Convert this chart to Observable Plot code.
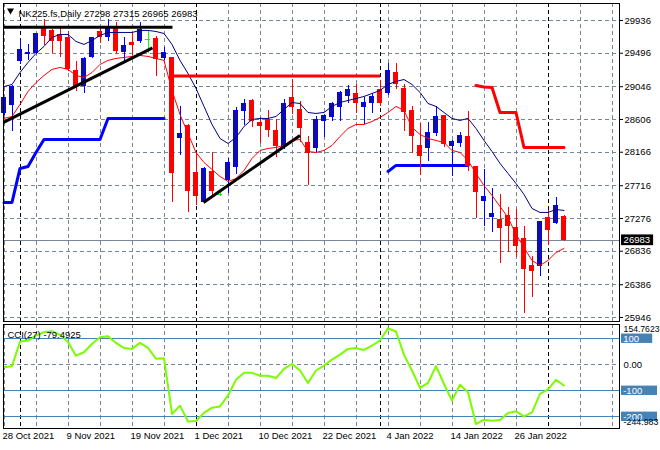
<!DOCTYPE html>
<html>
<head>
<meta charset="utf-8">
<script src="https://cdn.jsdelivr.net/npm/d3@7"></script>
<script src="https://cdn.jsdelivr.net/npm/@observablehq/plot@0.6"></script>
<style>
  html, body { margin: 0; padding: 0; background: #ffffff; }
  #chart { width: 660px; height: 450px; position: relative; }
  #chart svg { display: block; overflow: visible; }
</style>
</head>
<body>
<div id="chart"></div>
<script>
// ---------- data ----------
const title = "NK225.fs,Daily 27298 27315 26965 26983";
const cciTitle = "CCI(27) -79.4925";

const dateTickIdx = [0, 8, 16, 24, 32, 40, 48, 56, 64];
const dateTickLabels = ["28 Oct 2021", "9 Nov 2021", "19 Nov 2021", "1 Dec 2021", "10 Dec 2021",
  "22 Dec 2021", "4 Jan 2022", "14 Jan 2022", "26 Jan 2022"];
const monthStartIdx = [2, 24, 47, 68];

const priceTicks = [29936, 29496, 29046, 28606, 28166, 27716, 27276, 26836, 26386, 25946];
const priceDomain = [25892, 30164];

const open = [28687,28794,29385,29479,29493,29815,29788,29735,29694,29251,29049,29439,29775,29708,29815,29506,29627,29654,29681,29681,29426,29426,28351,28525,27881,27491,27894,27599,27787,27961,28714,28848,28552,28593,28445,28230,28888,28727,28284,28217,28579,28633,28767,28915,28942,28767,28821,28996,28955,29237,29009,28714,28243,28217,28418,28646,28243,28284,28364,27961,27505,27290,27249,27303,27142,26994,26631,26631,27276,27209,27298];
const high = [28902,29063,29667,29614,29761,29949,29815,29829,29788,29385,29439,29708,29842,29949,29909,29708,29761,29909,29788,29721,29573,29439,28781,28539,28163,27961,28163,27625,28082,28767,28875,28875,28633,28727,28606,28875,29143,28848,28378,28646,28673,28834,28982,29063,29076,28902,28955,29130,29358,29358,29076,28781,28552,28566,28781,28660,28324,28431,28714,27975,27934,27679,27599,27424,27397,27169,26766,27236,27384,27558,27315];
const low = [28660,28445,29345,29399,29479,29600,29493,29439,29251,28982,28955,29426,29627,29654,29479,29372,29466,29627,29493,29184,29399,27491,28122,27357,27451,27478,27558,27572,27612,27867,28525,28499,28284,28364,28096,28203,28673,28297,27719,28149,28364,28579,28579,28821,28687,28539,28687,28781,28929,29009,28445,28149,27854,28042,28378,28230,27840,28230,27908,27276,27169,27088,26672,26819,26752,26000,26215,26497,26913,27196,26965];
const close = [28888,29036,29533,29497,29748,29721,29654,29654,29278,29036,29412,29694,29708,29815,29520,29587,29600,29802,29681,29412,29493,27881,28405,27639,27572,27934,27639,27599,28015,28714,28808,28579,28525,28458,28243,28808,28767,28485,28149,28593,28646,28808,28955,28996,28821,28834,28902,28821,29251,29076,28700,28378,28122,28418,28633,28270,28297,28378,27975,27625,27558,27330,27142,27169,26900,26591,26564,27222,27115,27437,26983];

const maSlow = [29049,29076,29237,29372,29493,29587,29708,29748,29748,29654,29614,29667,29735,29775,29775,29775,29775,29802,29802,29788,29761,29614,29399,29224,29023,28781,28539,28351,28284,28364,28512,28606,28620,28620,28646,28740,28834,28821,28700,28687,28700,28781,28834,28861,28888,28915,28955,28996,29076,29117,29143,29076,28969,28821,28781,28700,28620,28593,28620,28485,28324,28176,28015,27881,27746,27599,27410,27357,27357,27397,27384];
const maFast = [28620,28646,28808,28982,29103,29197,29278,29305,29278,29197,29170,29237,29345,29399,29426,29439,29453,29466,29453,29426,29399,28996,28673,28418,28163,28028,27934,27840,27773,27813,27921,28082,28190,28217,28230,28257,28324,28337,28176,28163,28190,28257,28378,28485,28539,28539,28579,28633,28700,28781,28727,28499,28405,28351,28324,28297,28190,28163,28055,27881,27719,27585,27437,27290,27061,26886,26712,26645,26712,26819,26873];

const supportStep = [27492,27492,27948,27975,28163,28337,28337,28337,28337,28337,28337,28337,28337,28620,28620,28620,28620,28620,28620,28620,28620,
  null,null,null,null,null,null,null,null,null,null,null,null,null,null,null,null,null,null,null,null,null,null,null,null,null,null,null,
  27908,27989,27989,27989,27989,27989,27989,27989,27989,27989,27989,
  null,null,null,null,null,null,null,null,null,null,null,null];
const resistStep = [null,null,null,null,null,null,null,null,null,null,null,null,null,null,null,null,null,null,null,null,
  null,null,null,null,null,null,null,null,null,null,null,null,null,null,null,null,null,null,null,null,
  null,null,null,null,null,null,null,null,null,null,null,null,null,null,null,null,null,null,null,
  29063,29043,29036,28700,28700,28700,28230,28230,28230,28230,28230,28230];

// trend lines (bar index, price)
const blackLineI1 = [-0.06, -0.06, 24.94];
const blackLineP1 = [29846, 28566, 27491];
const blackLineI2 = [21.06, 18.56, 37.0];
const blackLineP2 = [29846, 29567, 28392];
const redLineI1 = [21];
const redLineP1 = [29191];
const redLineI2 = [47];
const redLineP2 = [29191];

const cci = [-9.5,-5.7,89,93,112,125,129,115,87,35,48,80,106,110,84,64,61,84,65,23,25,-189,-157,-218,-216,-185,-165,-160,-118,-58,-31,-31,-42,-42,-51,-16,3,-22,-70,-22,-3,20,39,61,64,57,74,93,140,128,38,-22,-89,-70,-5,-74,-138,-77,-106,-228,-211,-215,-212,-185,-179,-198,-183,-112,-95,-58,-79.4925];
const cciDomain = [-244.983, 154.7623];
const cciLevels = [100, -100, -200];
const cciLevelLabels = ["100", "-100", "-200"];
const cciPlainVals = [154.7623, 0, -244.983];
const cciPlainLabels = ["154.7623", "0.00", "-244.983"];

// ---------- build ----------
const N = open.length;
const bars = d3.range(N).map(i => ({i, open: open[i], high: high[i], low: low[i], close: close[i]}));
const bullBody = "#10109c", bullWick = "#0000ff", bear = "#ff0000", doji = "#00ff00";
const wickColor = d => d.close > d.open ? bullWick : d.close < d.open ? bear : doji;
const gridColor = "#778899";
const xDomain = [-0.0625, 76.9375];
const gridIdx = d3.range(0, 77, 4);
const font = "Liberation Sans";
const lastClose = close[N - 1];

const blackLines = blackLineI1.map((d, k) => ({i1: d, p1: blackLineP1[k], i2: blackLineI2[k], p2: blackLineP2[k]}));
const redLines = redLineI1.map((d, k) => ({i1: d, p1: redLineP1[k], i2: redLineI2[k], p2: redLineP2[k]}));

const main = Plot.plot({
  width: 660, height: 322,
  marginTop: 3, marginBottom: 1, marginLeft: 3, marginRight: 41,
  x: {domain: xDomain, axis: null},
  y: {domain: priceDomain, axis: null},
  style: {background: "#ffffff", fontFamily: font, fontSize: "9.5px", color: "#000"},
  marks: [
    Plot.ruleY(priceTicks, {stroke: gridColor, strokeDasharray: "4,3", shapeRendering: "crispEdges"}),
    Plot.ruleX(gridIdx, {stroke: gridColor, strokeDasharray: "4,3", shapeRendering: "crispEdges"}),
    Plot.ruleX(monthStartIdx, {stroke: "#000", strokeDasharray: "4,3", shapeRendering: "crispEdges"}),
    Plot.ruleY([lastClose], {stroke: gridColor, shapeRendering: "crispEdges"}),
    Plot.line(supportStep, {x: (d, i) => i, y: d => d, stroke: "#0000ff", strokeWidth: 3}),
    Plot.line(resistStep, {x: (d, i) => i, y: d => d, stroke: "#ff0000", strokeWidth: 3}),
    Plot.ruleX(bars, {x: "i", y1: "low", y2: "high", stroke: wickColor, shapeRendering: "crispEdges"}),
    Plot.rect(bars.filter(d => d.open !== d.close), {
      x1: d => d.i - 0.3, x2: d => d.i + 0.3, y1: "open", y2: "close",
      fill: d => d.close > d.open ? bullBody : bear,
      stroke: d => d.close > d.open ? bullWick : bear, shapeRendering: "crispEdges"}),
    Plot.ruleY(bars.filter(d => d.open === d.close), {
      y: "open", x1: d => d.i - 0.35, x2: d => d.i + 0.35, stroke: doji, shapeRendering: "crispEdges"}),
    Plot.line(maSlow, {x: (d, i) => i, y: d => d, stroke: "#000080", strokeWidth: 1}),
    Plot.line(maFast, {x: (d, i) => i, y: d => d, stroke: "#ff0000", strokeWidth: 1}),
    Plot.link(redLines, {x1: "i1", y1: "p1", x2: "i2", y2: "p2", stroke: "#ff0000", strokeWidth: 3}),
    Plot.link(blackLines, {x1: "i1", y1: "p1", x2: "i2", y2: "p2", stroke: "#000", strokeWidth: 3}),
    Plot.frame({stroke: "#000", shapeRendering: "crispEdges"}),
    Plot.axisY(priceTicks, {anchor: "right", tickSize: 3, tickPadding: 2, tickFormat: d => String(d),
      fontSize: 9.5, stroke: "#000", fill: "#000"}),
    Plot.rect([lastClose], {x1: 77.19, x2: 81.2, y1: d => d - 72, y2: d => d + 72, fill: "#000"}),
    Plot.text([lastClose], {x: 77.45, y: d => d, text: d => String(d), fill: "#fff", textAnchor: "start", fontSize: 9.5}),
    Plot.dot([title], {frameAnchor: "top-left", dx: 7, dy: 7, symbol: "triangle", rotate: 180, r: 2.6, fill: "#000", stroke: null}),
    Plot.text([title], {frameAnchor: "top-left", dx: 15, dy: 7, text: d => d, textAnchor: "start", fill: "#000", fontSize: 9.5})
  ]
});

const cciData = cci.map((v, i) => ({i, v}));
const plainDy = [5, 0, -6];
const plainSize = [8.6, 9.5, 8.8];
const sub = Plot.plot({
  width: 660, height: 128,
  marginTop: 2, marginBottom: 22, marginLeft: 3, marginRight: 41,
  x: {domain: xDomain, axis: null},
  y: {domain: cciDomain, axis: null},
  style: {background: "#ffffff", fontFamily: font, fontSize: "9.5px", color: "#000"},
  marks: [
    Plot.ruleX(gridIdx, {stroke: gridColor, strokeDasharray: "4,3", shapeRendering: "crispEdges"}),
    Plot.ruleX(monthStartIdx, {stroke: "#000", strokeDasharray: "4,3", shapeRendering: "crispEdges"}),
    Plot.ruleY([0], {stroke: gridColor, strokeDasharray: "4,3", shapeRendering: "crispEdges"}),
    Plot.ruleY(cciLevels, {stroke: "#4682b4", shapeRendering: "crispEdges"}),
    Plot.line(cciData, {x: "i", y: "v", stroke: "#7cfc00", strokeWidth: 2}),
    Plot.frame({stroke: "#000", shapeRendering: "crispEdges"}),
    Plot.text([cciTitle], {frameAnchor: "top-left", dx: 4, dy: 7, text: d => d, textAnchor: "start", fill: "#000", fontSize: 9.5}),
    Plot.rect(cciLevels, {x1: 77.19, x2: (d, k) => 77.19 + 2.1 + cciLevelLabels[k].length * 0.6, y1: d => d - 18, y2: d => d + 18, fill: "#4682b4"}),
    Plot.text(cciLevels, {x: 77.4, y: d => d, text: (d, k) => cciLevelLabels[k], fill: "#fff", textAnchor: "start", fontSize: 9.5}),
    ...cciPlainVals.map((v, k) => Plot.text([v], {x: 77.45, y: d => d, text: () => cciPlainLabels[k], fill: "#000",
      textAnchor: "start", fontSize: plainSize[k], dy: plainDy[k]})),
    Plot.text(dateTickIdx, {x: d => d, frameAnchor: "bottom", dy: 10.5, dx: -1.5, text: (d, k) => dateTickLabels[k],
      textAnchor: "start", fill: "#000", fontSize: 9.5})
  ]
});

const root = document.getElementById("chart");
root.appendChild(main);
root.appendChild(sub);
</script>
</body>
</html>
